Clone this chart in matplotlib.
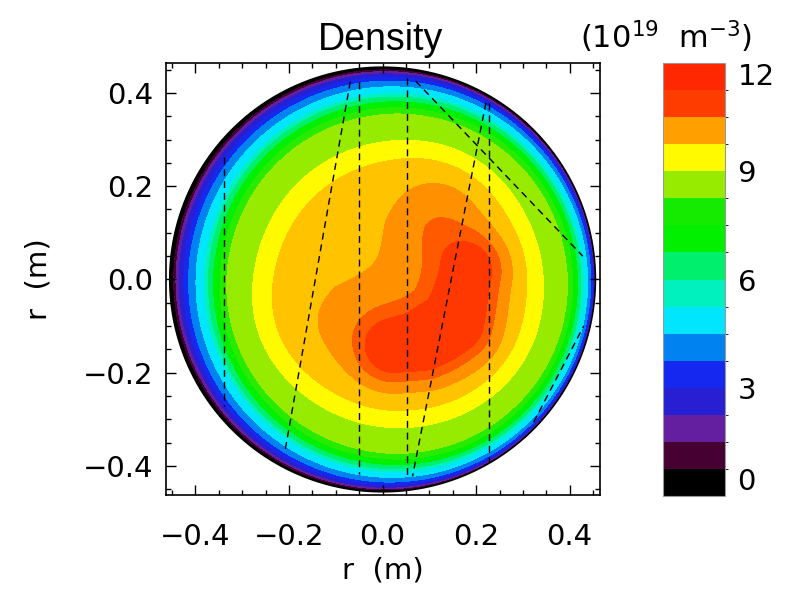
import matplotlib
matplotlib.use("Agg")

import matplotlib.pyplot as plt
import numpy as np
from matplotlib.colors import BoundaryNorm, ListedColormap
from matplotlib.ticker import MultipleLocator


# plasma boundary radius (m)
MINOR_RADIUS = 0.455

# radial density profile on shifted flux surfaces (normalised radius -> 1e19 m^-3)
profile_s = [0.0, 0.30, 0.45, 0.57, 0.67, 0.80, 0.855, 0.875, 0.89, 0.92,
             0.945, 0.974, 0.983, 0.989, 1.0]
profile_ne = [9.60, 9.52, 9.38, 9.18, 8.47, 7.76, 6.35, 5.65, 4.94, 4.24,
              3.53, 2.12, 1.41, 0.71, 0.0]

# shift of the magnetic axis (m), vanishing at the boundary
axis_shift_x = 0.035
axis_shift_y = -0.010

# ridge of the peaked core: centre line (m), peak (1e19 m^-3), width (m)
ridge_x = [0.19, 0.16, 0.08, 0.02]
ridge_y = [0.02, -0.09, -0.14, -0.15]
ridge_amp = 2.35
ridge_width = 0.05

# additional blobs: centre (m), amplitude (1e19 m^-3), widths in x and y (m)
blob_x = [0.12, 0.00, 0.14]
blob_y = [0.12, -0.10, -0.12]
blob_amp = [1.05, 0.65, 0.70]
blob_wx = [0.075, 0.17, 0.07]
blob_wy = [0.08, 0.09, 0.07]

# interferometer chords: start and end points (m)
chord_x0 = [-0.338, -0.069, -0.051, 0.053, 0.221, 0.227, 0.071, 0.323]
chord_y0 = [0.263, 0.424, 0.424, 0.432, 0.379, 0.379, 0.425, -0.306]
chord_x1 = [-0.338, -0.208, -0.051, 0.053, 0.064, 0.227, 0.428, 0.430]
chord_y1 = [-0.272, -0.364, -0.418, -0.428, -0.422, -0.392, 0.050, -0.100]

# colour scale
cbar_levels = np.arange(0, 12.01, 0.75)
cbar_colors = [
    "#000000", "#460032", "#641ea0", "#281ed2", "#1428f0", "#0082f0",
    "#00e6ff", "#00f0be", "#00f06e", "#00f000", "#14eb00", "#96eb00",
    "#fffa00", "#ffa000", "#ff3c00", "#ff2800",
]
field_levels = np.linspace(0, 12, 18)
field_colors = [
    "#000000", "#460032", "#641ea0", "#281ed2", "#1428f0", "#0082f0",
    "#00e6ff", "#00f0be", "#00f06e", "#00f000", "#28eb00", "#96eb00",
    "#fffa00", "#ffc300", "#ff9100", "#ff5a00", "#ff3700",
]
cbar_ticks = [0, 3, 6, 9, 12]
axis_ticks = [-0.4, -0.2, 0.0, 0.2, 0.4]


def flux_radius(x, y):
    # solve p = shift(s) + s * a * (cos, sin) by fixed-point iteration
    s = np.hypot(x, y) / MINOR_RADIUS
    for _ in range(60):
        w = 1.0 - np.clip(s, 0, 1) ** 10
        s = np.hypot(x - axis_shift_x * w, y - axis_shift_y * w) / MINOR_RADIUS
    return s


def distance_to_ridge(x, y):
    dist = np.full_like(x, np.inf)
    for i in range(len(ridge_x) - 1):
        x0, y0 = ridge_x[i], ridge_y[i]
        dx, dy = ridge_x[i + 1] - x0, ridge_y[i + 1] - y0
        t = np.clip(((x - x0) * dx + (y - y0) * dy) / (dx * dx + dy * dy), 0, 1)
        dist = np.minimum(dist, np.hypot(x - x0 - t * dx, y - y0 - t * dy))
    return dist


def density_map(x, y):
    s = flux_radius(x, y)
    ne = np.interp(s, profile_s, profile_ne, right=0.0)

    core = ridge_amp * np.exp(-distance_to_ridge(x, y) ** 2 / (2 * ridge_width ** 2))
    for bx, by, amp, wx, wy in zip(blob_x, blob_y, blob_amp, blob_wx, blob_wy):
        core += amp * np.exp(-0.5 * (((x - bx) / wx) ** 2 + ((y - by) / wy) ** 2))
    # no core contribution out in the edge gradient
    ne = ne + core * np.clip((1.0 - s) / 0.4, 0, 1)

    ne = np.clip(ne, 0, 11.99)
    return np.where(np.hypot(x, y) <= MINOR_RADIUS, ne, np.nan)


plt.rcParams["font.family"] = "DejaVu Sans"

fig = plt.figure(figsize=(7.88, 5.91), dpi=100)
ax = fig.add_axes([0.2107, 0.1624, 0.5508, 0.731])
cax = fig.add_axes([0.8414, 0.1607, 0.0787, 0.7327])

grid = np.linspace(-0.47, 0.47, 500)
xx, yy = np.meshgrid(grid, grid)
ne_map = density_map(xx, yy)

ax.contourf(xx, yy, ne_map, levels=field_levels, colors=field_colors)
theta = np.linspace(0, 2 * np.pi, 400)
ax.plot(MINOR_RADIUS * np.cos(theta), MINOR_RADIUS * np.sin(theta), color="black", lw=1.2)

for x0, y0, x1, y1 in zip(chord_x0, chord_y0, chord_x1, chord_y1):
    ax.plot([x0, x1], [y0, y1], color="black", lw=1.0, dashes=(5, 3.5))

ax.set_xlim(-0.463, 0.465)
ax.set_ylim(-0.462, 0.464)
ax.set_xticks(axis_ticks)
ax.set_yticks(axis_ticks)
ax.xaxis.set_minor_locator(MultipleLocator(0.05))
ax.yaxis.set_minor_locator(MultipleLocator(0.05))
ax.tick_params(which="both", direction="in", top=True, right=True, width=1.0)
ax.tick_params(which="major", length=7)
ax.tick_params(which="minor", length=3.5)
ax.tick_params(axis="x", which="major", labelsize=21, pad=20)
ax.tick_params(axis="y", which="major", labelsize=21, pad=9)
for spine in ax.spines.values():
    spine.set_linewidth(1.2)

ax.set_xlabel("r  (m)", fontsize=21, labelpad=4)
ax.set_ylabel("r  (m)", fontsize=21, labelpad=22)

fig.text(0.4835, 1 - 40 / 591, "Density", ha="center", va="center",
         fontsize=27, family=["Liberation Sans", "DejaVu Sans"])
fig.text(666 / 788, 1 - 37 / 591, r"(10$^{19}$  m$^{-3}$)", ha="center", va="center",
         fontsize=22)

cmap = ListedColormap(cbar_colors)
norm = BoundaryNorm(cbar_levels, cmap.N)
sm = plt.cm.ScalarMappable(cmap=cmap, norm=norm)
cb = fig.colorbar(sm, cax=cax, ticks=cbar_ticks)
cb.outline.set_edgecolor("#999999")
cb.outline.set_linewidth(0.8)
cax.tick_params(length=0, labelsize=21, pad=9)
labels = cax.get_yticklabels()
labels[0].set_verticalalignment("bottom")
labels[-1].set_verticalalignment("top")

fig.savefig("out.png", dpi=100)
